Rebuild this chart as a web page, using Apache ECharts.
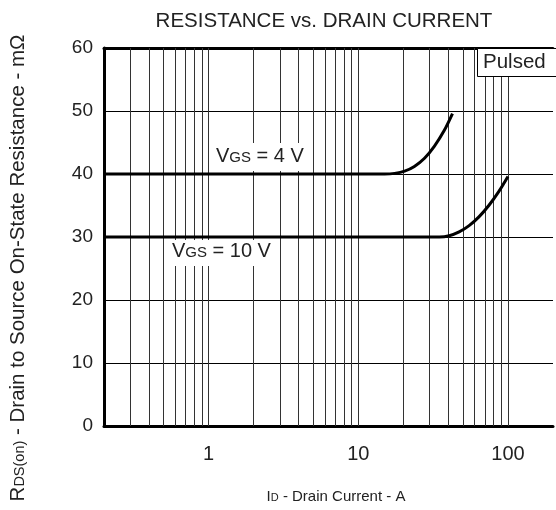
<!DOCTYPE html>
<html><head><meta charset="utf-8">
<script src="https://cdn.jsdelivr.net/npm/echarts@6/dist/echarts.min.js"></script>
<style>html,body{margin:0;padding:0;background:#fff}#c{width:556px;height:510px}</style>
</head><body><div id="c"></div>
<script>
// ---- data ----
const xVgs4 = [0.2, 15, 17.5, 20.4, 23.7, 27.7, 32.2, 37.5, 42.6];
const yVgs4 = [40, 40, 40.1, 40.45, 41.2, 42.5, 44.4, 46.9, 49.6];
const xVgs10 = [0.2, 34.8, 40.5, 47.2, 55, 64, 74.5, 86.8, 100];
const yVgs10 = [30, 30, 30.2, 30.8, 31.8, 33.2, 35, 37.2, 39.6];
const xGridLines = [0.3,0.4,0.5,0.6,0.7,0.8,0.9,1,2,3,4,5,6,7,8,9,10,20,30,40,50,60,70,80,90,100];
const xTickLabels = [1, 10, 100];
const yTicks = [0, 10, 20, 30, 40, 50, 60];

const FONT = "'Liberation Sans', Arial, sans-serif";
const chart = echarts.init(document.getElementById('c'), null, {renderer: 'canvas'});
const zip = (xs, ys) => xs.map((x, i) => [x, ys[i]]);
const xLabelFmt = v => { const m = xTickLabels.find(t => Math.abs(t - v) < 1e-6 * t); return m !== undefined ? String(m) : ''; };

chart.setOption({
  animation: false,
  backgroundColor: '#fff',
  title: {
    text: 'RESISTANCE vs. DRAIN CURRENT',
    left: 319, top: 6, textAlign: 'center',
    textStyle: {fontFamily: FONT, fontSize: 20.5, fontWeight: 'normal', color: '#222'}
  },
  grid: {left: 104, top: 48, width: 455, height: 378, show: false},
  xAxis: [{
    type: 'log', min: 0.2, max: 200, logBase: 10, position: 'bottom',
    axisLine: {show: true, lineStyle: {color: '#000', width: 3}}, axisTick: {show: false}, splitLine: {show: false},
    minorTick: {show: false}, minorSplitLine: {show: false},
    axisLabel: {margin: 18, fontFamily: FONT, fontSize: 20, color: '#222', formatter: xLabelFmt}
  }, {
    type: 'log', min: 0.2, max: 200, logBase: 10, position: 'top',
    axisLine: {show: true, lineStyle: {color: '#000', width: 3}}, axisTick: {show: false}, splitLine: {show: false},
    axisLabel: {show: false}
  }],
  yAxis: {
    type: 'value', min: 0, max: 60, interval: 10,
    axisLine: {show: true, lineStyle: {color: '#000', width: 3}}, axisTick: {show: false},
    splitLine: {show: true, lineStyle: {color: '#000', width: 1}},
    axisLabel: {margin: 11, fontFamily: FONT, fontSize: 19, color: '#222',
      formatter: v => yTicks.includes(v) ? String(v) : ''}
  },
  series: [
    {
      type: 'line', data: zip(xVgs4, yVgs4), smooth: 0.3, symbol: 'none',
      lineStyle: {color: '#000', width: 3}, z: 5,
      markLine: {
        silent: true, symbol: 'none', label: {show: false},
        lineStyle: {color: '#333', width: 1, type: 'solid'},
        data: xGridLines.map(v => ({xAxis: v})), z: 1
      }
    },
    {
      type: 'line', data: zip(xVgs10, yVgs10), smooth: 0.3, symbol: 'none',
      lineStyle: {color: '#000', width: 3}, z: 5
    }
  ],
  graphic: [
    {type: 'rect', left: 477, top: 48, z: 10, shape: {width: 90, height: 28},
     style: {fill: '#fff', stroke: '#000', lineWidth: 1}},
    {type: 'text', left: 483, top: 52, z: 11,
     style: {text: 'Pulsed', font: '20.5px ' + FONT, fill: '#222'}},
    {type: 'rect', left: 210, top: 143, z: 10, shape: {width: 98, height: 28}, style: {fill: '#fff'}},
    {type: 'text', left: 216, top: 146, z: 11,
     style: {text: '{a|V}{b|GS}{a| = 4 V}', rich: {
       a: {font: '20px ' + FONT, fill: '#222', verticalAlign: 'bottom'},
       b: {font: '15px ' + FONT, fill: '#222', verticalAlign: 'bottom', padding: [0,0,1,0]}}}},
    {type: 'rect', left: 166, top: 240, z: 10, shape: {width: 114, height: 26}, style: {fill: '#fff'}},
    {type: 'text', left: 172, top: 241, z: 11,
     style: {text: '{a|V}{b|GS}{a| = 10 V}', rich: {
       a: {font: '20px ' + FONT, fill: '#222', verticalAlign: 'bottom'},
       b: {font: '15px ' + FONT, fill: '#222', verticalAlign: 'bottom', padding: [0,0,1,0]}}}},
    {type: 'text', x: 336, y: 497, z: 11,
     style: {text: '{b|I}{c|D}{b| - Drain Current - A}', align: 'center', verticalAlign: 'middle', rich: {
       b: {font: '15px ' + FONT, fill: '#222', verticalAlign: 'bottom'},
       c: {font: '11px ' + FONT, fill: '#222', verticalAlign: 'bottom', padding: [0,0,1,0]}}}},
    {type: 'text', x: 18, y: 268, rotation: Math.PI / 2, z: 11,
     style: {text: '{b|R}{c|DS(on)}{b| - Drain to Source On-State Resistance - mΩ}', align: 'center', verticalAlign: 'middle', rich: {
       b: {font: '20.5px ' + FONT, fill: '#222', verticalAlign: 'bottom'},
       c: {font: '14.5px ' + FONT, fill: '#222', verticalAlign: 'bottom', padding: [0,0,1,0]}}}}
  ]
});
</script></body></html>
